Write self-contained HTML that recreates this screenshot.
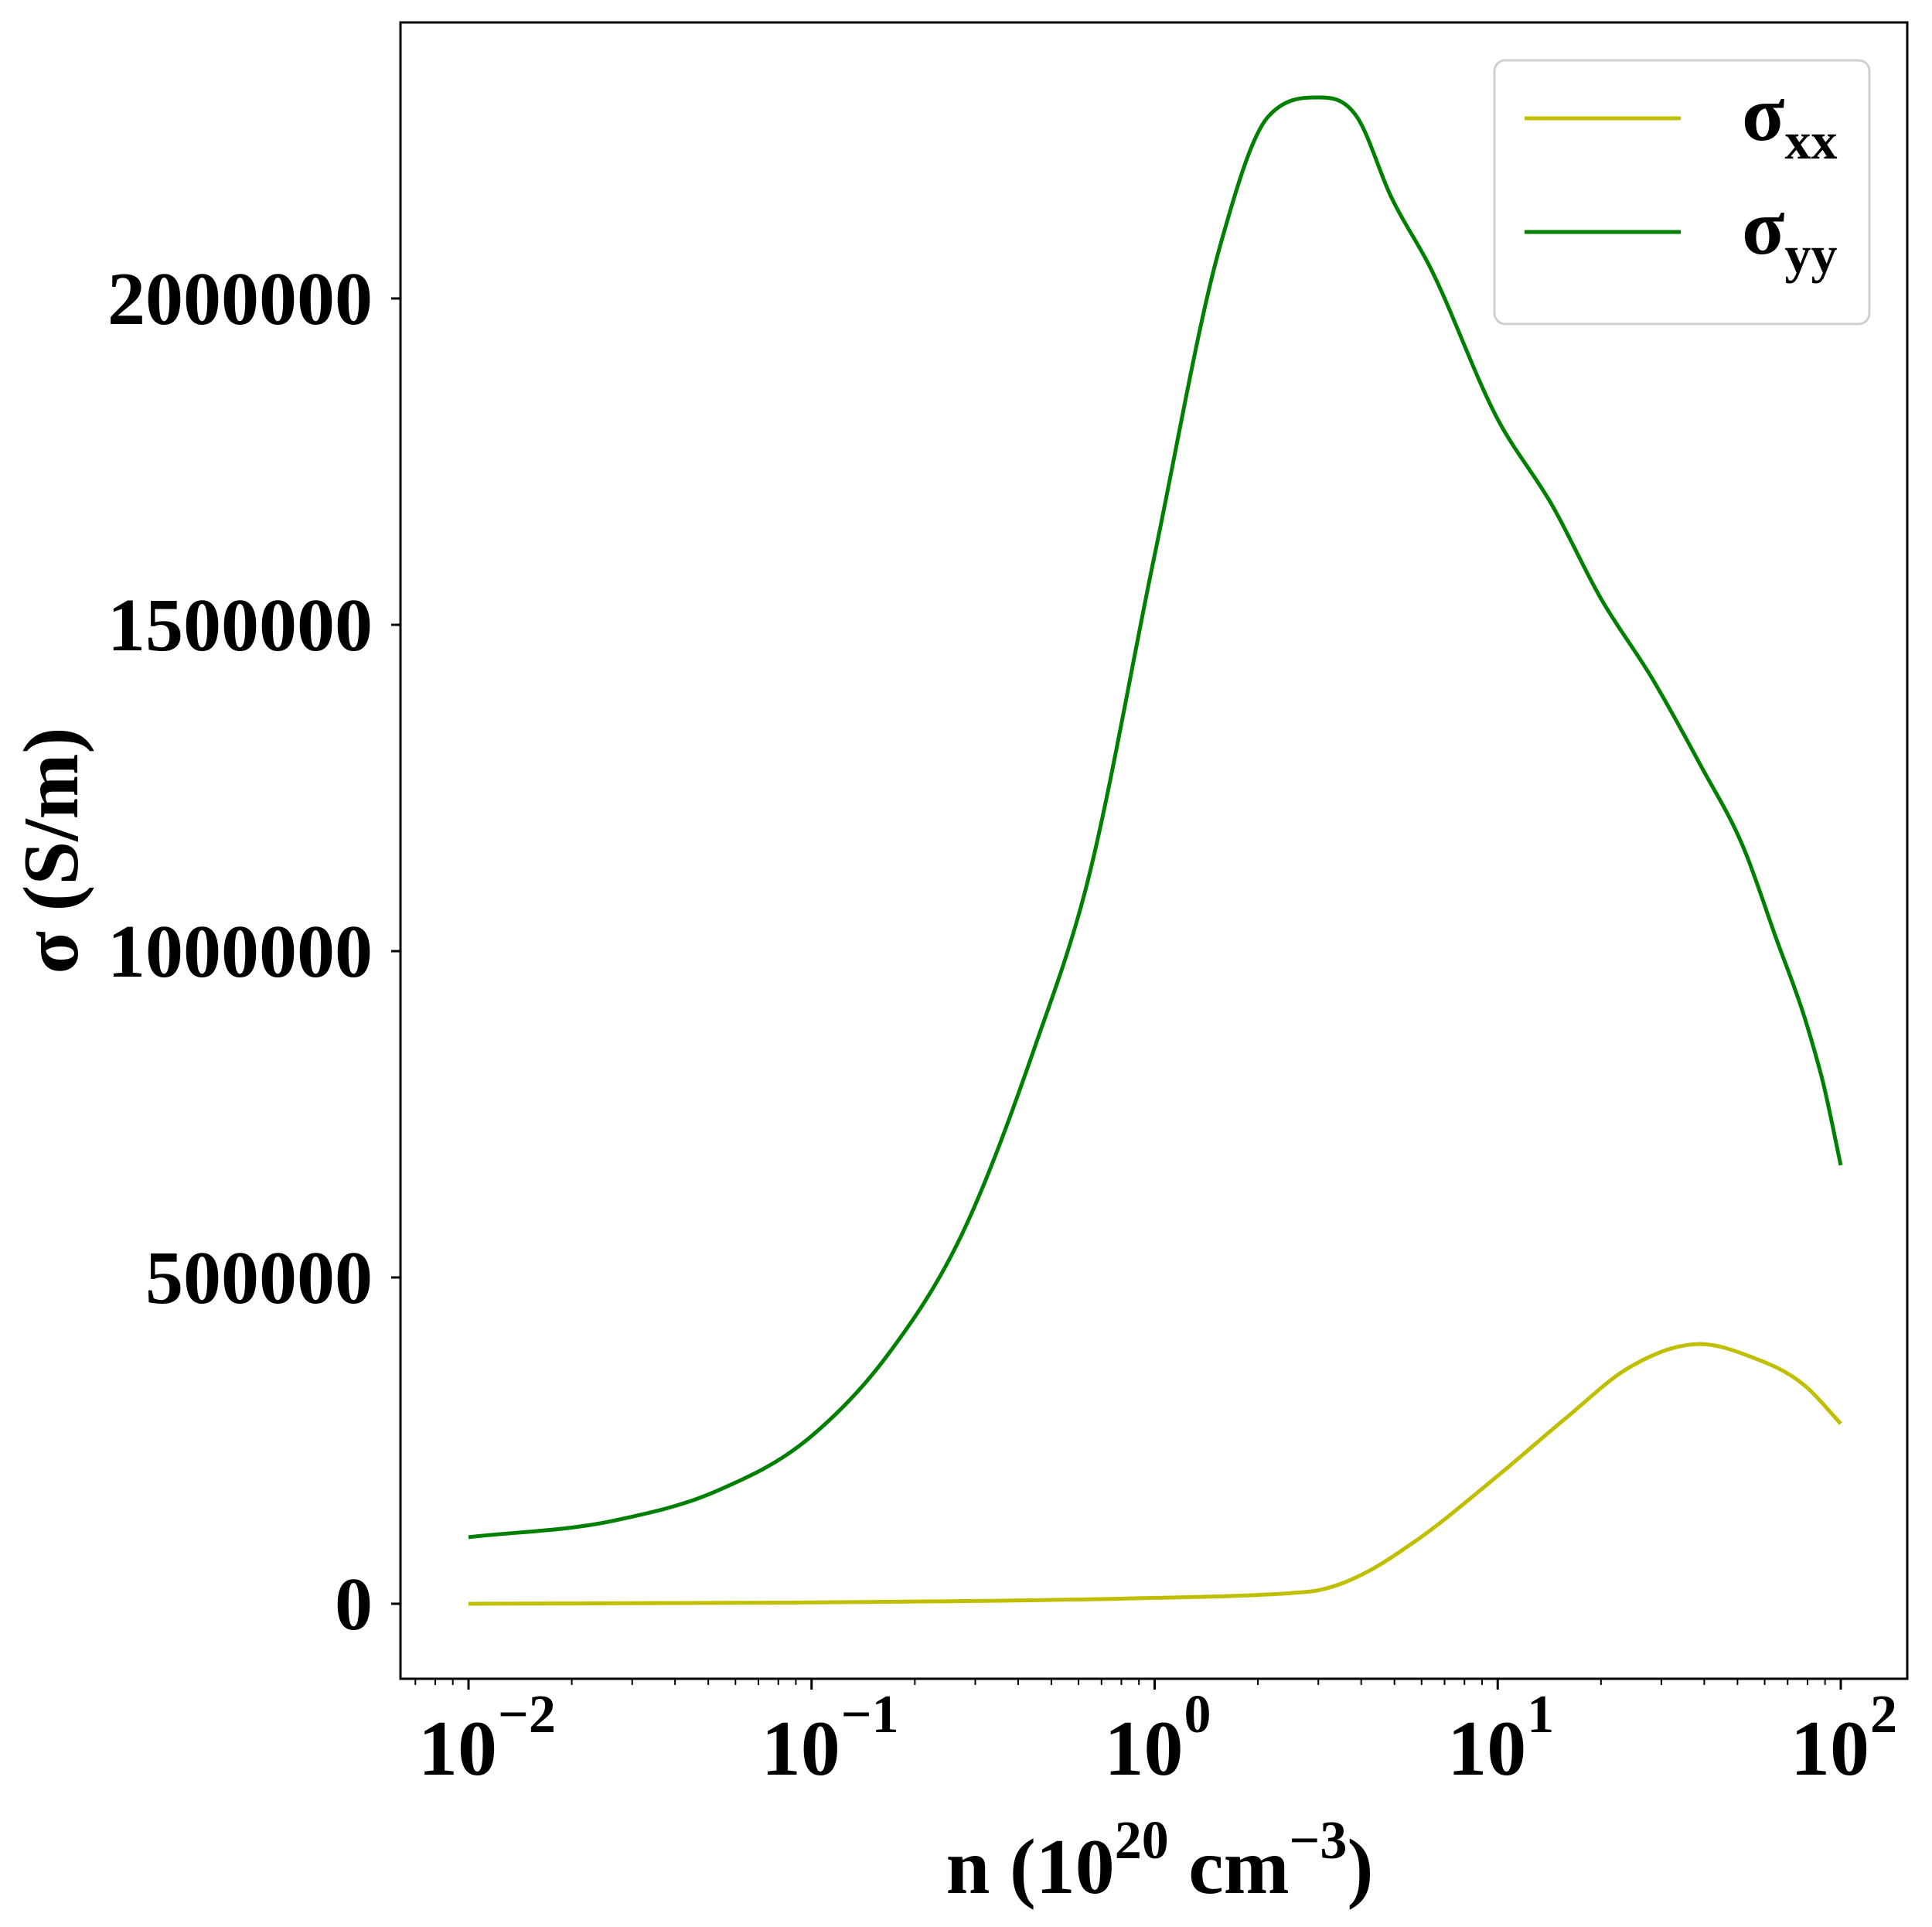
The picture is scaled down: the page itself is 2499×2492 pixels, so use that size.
<!DOCTYPE html>
<html><head><meta charset="utf-8"><style>
html,body{margin:0;padding:0;background:#fff}
svg{display:block}
text{font-family:"Liberation Serif","Times New Roman",serif;font-weight:bold;fill:#000}
</style></head><body>
<svg id="chart" width="2499" height="2492" viewBox="0 0 2499 2492" xmlns="http://www.w3.org/2000/svg">
<g id="plot"></g>
</svg>
<script>
const xLogValues = [-2,-1.57,-1.28,-1.0,-0.78,-0.56,-0.35,-0.2,0,0.19,0.33,0.48,0.59,0.69,0.8,1.0,1.16,1.30,1.45,1.59,1.72,1.81,1.90,1.95,2];
const sigmaYY = [102000,128000,172000,257000,380000,568000,852000,1097000,1607000,2079000,2278000,2308000,2278000,2155000,2051000,1815000,1682000,1541000,1418000,1286000,1154000,1022000,889000,795000,672000];
const xLogXX = [-2,-1,0,0.3,0.4,0.48,0.55,0.62,0.76,1.0,1.2,1.38,1.59,1.73,1.9,2];
const sigmaXX = [0,2000,9000,13500,16500,21000,32000,49000,96000,196000,285000,361000,398000,380000,332000,276000];
const yTicks = [0,500000,1000000,1500000,2000000];
const yTickLabels = ["0","500000","1000000","1500000","2000000"];
const xTickExps = [-2,-1,0,1,2];

const L=518,R=2467,T=29,B=2171;
function xs(lx){return 606+(lx+2)*443.75;}
function ys(v){return 2074-v/500000*422;}
const NS="http://www.w3.org/2000/svg";
const g=document.getElementById('plot');
function el(t,a,p){const e=document.createElementNS(NS,t);for(const k in a)e.setAttribute(k,a[k]);(p||g).appendChild(e);return e;}

function smooth(xa,ya){
  const n=xa.length, P=xa.map((x,i)=>[xs(x),ys(ya[i])]);
  const s=[];for(let i=0;i<n-1;i++)s.push((P[i+1][1]-P[i][1])/(P[i+1][0]-P[i][0]));
  const m=[];for(let i=0;i<n;i++){
    if(i===0)m.push(s[0]);else if(i===n-1)m.push(s[n-2]);
    else if(s[i-1]*s[i]<=0)m.push(0);
    else{const h0=P[i][0]-P[i-1][0],h1=P[i+1][0]-P[i][0];
      let v=(s[i-1]*h1+s[i]*h0)/(h0+h1);
      const lim=3*Math.min(Math.abs(s[i-1]),Math.abs(s[i]));
      if(Math.abs(v)>lim)v=Math.sign(v)*lim;
      m.push(v);}
  }
  let d='M'+P[0][0]+','+P[0][1];
  for(let i=0;i<n-1;i++){
    const h=P[i+1][0]-P[i][0];
    d+=' C'+(P[i][0]+h/3)+','+(P[i][1]+m[i]*h/3)+' '+(P[i+1][0]-h/3)+','+(P[i+1][1]-m[i+1]*h/3)+' '+P[i+1][0]+','+P[i+1][1];
  }
  return d;
}

let s1=el('path',{d:smooth(xLogValues,sigmaYY),fill:'none',stroke:'#008000','stroke-width':5});


let s2=el('path',{d:smooth(xLogXX,sigmaXX),fill:'none',stroke:'#bfbf00','stroke-width':5});



let fr=el('rect',{x:L,y:T,width:R-L,height:B-T,fill:'none',stroke:'#000','stroke-width':3});



yTicks.forEach((v,i)=>{
  const y=ys(v);
  el('line',{x1:L-12,x2:L,y1:y,y2:y,stroke:'#000','stroke-width':3});
  const t=el('text',{x:L-36,y:y+33,'font-size':98,'text-anchor':'end'});
  t.textContent=yTickLabels[i];
  
  
});
xTickExps.forEach(e=>{
  const x=xs(e);
  el('line',{x1:x,x2:x,y1:B,y2:B+14,stroke:'#000','stroke-width':3});
  const t=el('text',{x:x-14,y:2295,'font-size':102,'text-anchor':'middle'});
  t.textContent='10';
  
  
  const s=el('text',{x:x+38,y:2240,'font-size':70,'text-anchor':'start'});
  s.textContent=e<0?'\u2212'+(-e):String(e);
  
  
});
for(let e=-3;e<2;e++){for(let k=2;k<10;k++){const lx=e+Math.log10(k);const x=xs(lx);if(x<L||x>R)continue;el('line',{x1:x,x2:x,y1:B,y2:B+8,stroke:'#000','stroke-width':2});}}

let xt=el('text',{x:1500,y:2448,'font-size':102,'text-anchor':'middle'});
xt.innerHTML='n (10<tspan dy="-45" font-size="70">20</tspan><tspan dy="45"> cm</tspan><tspan dy="-45" font-size="70">\u22123</tspan><tspan dy="45">)</tspan>';


let yt=el('text',{x:0,y:0,'font-size':102,'text-anchor':'middle',transform:'translate(100,1100) rotate(-90)'});
yt.textContent='\u03c3 (S/m)';



let lg=el('rect',{x:1933,y:78,width:485,height:341,rx:14,fill:'#fff',stroke:'#d0d0d0','stroke-width':3});


[['#bfbf00','xx',153],['#008000','yy',300]].forEach(([c,sub,y])=>{
  el('line',{x1:1972,x2:2174,y1:y,y2:y,stroke:c,'stroke-width':5});
  const t=el('text',{x:2253,y:y+28,'font-size':102});
  t.innerHTML='\u03c3<tspan dy="24" font-size="68">'+sub+'</tspan>';
  
  
});
</script>
</body></html>
